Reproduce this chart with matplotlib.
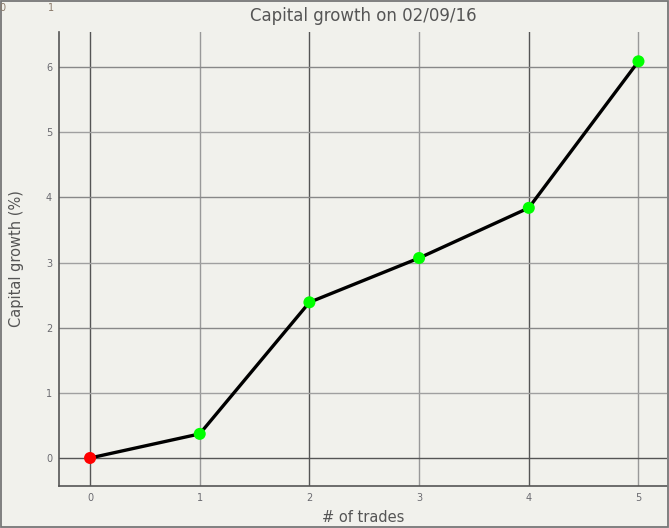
import numpy as np
import matplotlib
matplotlib.use("Agg")
import matplotlib.pyplot as plt
from matplotlib.patches import Rectangle

trades = [0, 1, 2, 3, 4, 5]
growth = [0.0, 0.37, 2.39, 3.07, 3.84, 6.09]
point_colors = ["#ff0000", "#00ff00", "#00ff00", "#00ff00", "#00ff00", "#00ff00"]

bg = "#f1f1ec"
txt = "#555555"

fig = plt.figure(figsize=(6.69, 5.28), dpi=100, facecolor=bg)
ax = fig.add_axes([59 / 669, 1 - 486 / 528, (667 - 59) / 669, (486 - 32) / 528])
ax.set_facecolor(bg)

ax.set_xlim(-0.283, 5.26)
ax.set_ylim(-0.43, 6.54)

# grid lines, alternating shades
for x in trades:
    ax.axvline(x, color="#555555" if x % 2 == 0 else "#999999", lw=1, zorder=1)
for y in range(0, 7):
    if y == 0:
        c = "#555555"
    elif y % 2 == 0:
        c = "#888888"
    else:
        c = "#a0a0a0"
    ax.axhline(y, color=c, lw=1, zorder=1)

ax.plot(trades, growth, color="black", lw=2.4, zorder=2)
ax.scatter(trades, growth, s=75, c=point_colors, zorder=3, linewidths=0)

for side in ["top", "right"]:
    ax.spines[side].set_visible(False)
for side in ["left", "bottom"]:
    ax.spines[side].set_color("#555555")
    ax.spines[side].set_linewidth(1.2)

ax.set_xticks(trades)
ax.set_yticks(range(0, 7))
ax.tick_params(length=0, labelsize=7, labelcolor="#6a6a70", pad=5)

ax.set_title("Capital growth on 02/09/16", fontsize=12, color=txt, pad=8)
ax.set_xlabel("# of trades", fontsize=10.5, color=txt, labelpad=5)
ax.set_ylabel("Capital growth (%)", fontsize=10.5, color=txt, labelpad=16)

fig.text(2 / 669, 1 - 8 / 528, "0", fontsize=7, color="#8a7a6a", va="center", ha="center")
fig.text(51 / 669, 1 - 8 / 528, "1", fontsize=7, color="#8a7a6a", va="center", ha="center")

fig.patches.append(Rectangle((0.001, 0.001), 0.997, 0.997, transform=fig.transFigure,
                             fill=False, edgecolor="#777777", lw=1.3))

fig.savefig("out.png", dpi=100, facecolor=bg)
